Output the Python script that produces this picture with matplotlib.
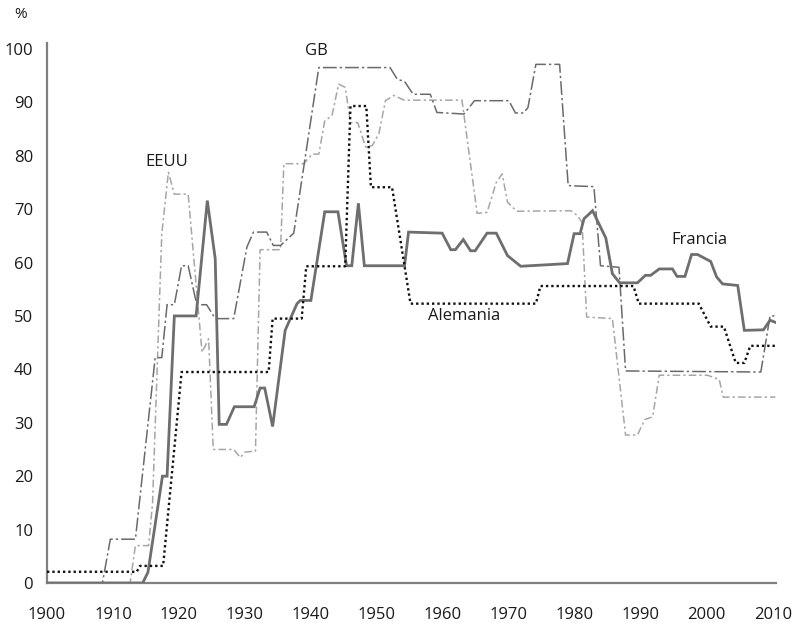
import numpy as np
import matplotlib
matplotlib.use("Agg")
import matplotlib.pyplot as plt

# -- Datos (tipo marginal maximo, %)
francia_anos = [1900, 1914.5, 1915.3, 1917.5, 1918.2, 1919.3, 1922.6, 1924.3, 1925.5, 1926.1,
                1927.2, 1928.4, 1931.4, 1932.3, 1933.0, 1934.2, 1936.1, 1937.9, 1938.4, 1940.0,
                1942.1, 1944.1, 1945.4, 1946.2, 1947.2, 1948.1, 1954.2, 1954.8, 1959.9, 1961.2,
                1961.9, 1963.1, 1964.2, 1964.9, 1966.7, 1968.1, 1969.8, 1971.8, 1978.9, 1979.9,
                1980.8, 1981.4, 1982.7, 1984.7, 1985.7, 1986.8, 1989.5, 1990.7, 1991.5, 1992.8,
                1994.8, 1995.5, 1996.7, 1997.7, 1998.6, 2000.6, 2001.5, 2002.4, 2004.7, 2005.7,
                2008.6, 2009.6, 2010.4]
francia = [0, 0, 2, 20, 20, 50, 50, 71.6, 60.7, 29.7,
           29.7, 33, 33, 36.5, 36.5, 29.3, 47.3, 52.3, 52.9, 52.9,
           69.5, 69.5, 59.4, 59.4, 71.1, 59.4, 59.4, 65.7, 65.5, 62.4,
           62.4, 64.3, 62.2, 62.2, 65.5, 65.5, 61.3, 59.3, 59.8, 65.4,
           65.4, 68.2, 69.7, 64.6, 57.9, 56.2, 56.2, 57.6, 57.6, 58.8,
           58.8, 57.4, 57.4, 61.5, 61.5, 60.2, 57.3, 56.0, 55.7, 47.3,
           47.4, 49.2, 48.8]

alemania_anos = [1900, 1913.6, 1914.1, 1917.6, 1920.4, 1933.6, 1934.2, 1938.6, 1939.3, 1945.2,
                 1946.0, 1948.4, 1949.1, 1952.3, 1955.1, 1974.1, 1974.8, 1988.9, 1989.7, 1998.8,
                 2000.6, 2002.6, 2004.4, 2005.7, 2006.6, 2010.4]
alemania = [2.1, 2.1, 3.2, 3.2, 39.5, 39.5, 49.5, 49.5, 59.3, 59.3,
            89.3, 89.3, 74.1, 74.1, 52.3, 52.3, 55.6, 55.6, 52.3, 52.3,
            48.0, 48.0, 41.2, 41.2, 44.4, 44.4]

gb_anos = [1900, 1908.4, 1909.6, 1913.4, 1916.4, 1917.4, 1918.2, 1919.3, 1920.4, 1921.4,
           1922.7, 1924.2, 1925.5, 1928.3, 1930.3, 1931.3, 1933.3, 1934.3, 1935.4, 1937.4,
           1941.2, 1952.0, 1953.1, 1954.2, 1955.5, 1958.1, 1959.1, 1963.2, 1964.8, 1970.0,
           1971.0, 1972.2, 1972.9, 1974.1, 1977.7, 1979.0, 1982.9, 1983.9, 1986.7, 1987.7,
           2008.2, 2009.6, 2010.4]
gb = [0, 0, 8.2, 8.2, 42.2, 42.2, 52.1, 52.1, 59.4, 59.4,
      52.1, 52.1, 49.5, 49.5, 62.9, 65.7, 65.7, 63.2, 63.2, 65.5,
      96.5, 96.5, 94.3, 93.9, 91.5, 91.5, 88.1, 87.8, 90.3, 90.3,
      88.0, 88.0, 89.0, 97.1, 97.1, 74.4, 74.2, 59.4, 59.1, 39.7,
      39.5, 50, 50]

eeuu_anos = [1900, 1912.6, 1913.4, 1915.4, 1916.0, 1917.4, 1918.4, 1919.3, 1921.4, 1923.5,
             1924.5, 1925.2, 1928.3, 1929.3, 1930.0, 1931.6, 1932.3, 1935.4, 1935.9, 1938.9,
             1940.2, 1941.2, 1942.1, 1943.2, 1944.2, 1945.2, 1946.0, 1947.1, 1948.3, 1949.3,
             1950.3, 1951.3, 1952.6, 1954.1, 1962.9, 1965.2, 1966.7, 1968.1, 1969.0, 1969.8,
             1971.2, 1979.4, 1980.4, 1981.1, 1981.8, 1985.7, 1987.7, 1989.5, 1990.6, 1991.8,
             1992.8, 2000.1, 2001.9, 2002.5, 2010.4]
eeuu = [0, 0, 7, 7, 15, 65.4, 76.9, 72.8, 72.8, 43.2,
        45.7, 25.0, 25.0, 23.5, 24.5, 24.7, 62.4, 62.4, 78.5, 78.5,
        80.3, 80.3, 86.5, 87.5, 93.4, 92.8, 86.2, 86.2, 81.6, 81.9,
        84.1, 90.3, 91.3, 90.4, 90.4, 69.2, 69.4, 75.0, 76.6, 71.3,
        69.6, 69.7, 68.8, 67.5, 49.8, 49.5, 27.7, 27.7, 30.6, 31.1,
        38.9, 38.9, 38.1, 34.8, 34.8]

xticks = np.arange(1900, 2011, 10)
yticks = np.arange(0, 101, 10)

plt.rcParams['font.family'] = ['Open Sans', 'DejaVu Sans']

# -- Preparer graphique
fig = plt.figure(figsize=(7.94, 6.23), dpi=100)
ax = fig.add_axes([47 / 794, 1 - 583 / 623, (776 - 47) / 794, (583 - 43) / 623])

ax.plot(eeuu_anos, eeuu, color='#a6a6a6', lw=1.1, dashes=(5, 2, 1.5, 2))
ax.plot(gb_anos, gb, color='#6a6a6a', lw=1.1, dashes=(9, 2, 1.5, 2))
ax.plot(francia_anos, francia, color='#6e6e6e', lw=2.0, solid_joinstyle='miter')
ax.plot(alemania_anos, alemania, color='#111111', lw=1.7, linestyle=(0, (1, 1.25)))

# -- Etiquetas de series
ax.text(1918.1, 78.8, 'EEUU', fontsize=12, ha='center', va='center', color='#1a1a1a')
ax.text(1940.9, 99.6, 'GB', fontsize=12, ha='center', va='center', color='#1a1a1a')
ax.text(1963.2, 49.9, 'Alemania', fontsize=12, ha='center', va='center', color='#1a1a1a')
ax.text(1998.9, 64.2, 'Francia', fontsize=12, ha='center', va='center', color='#1a1a1a')

# -- Ejes
ax.set_xlim(1900, 2010.5)
ax.set_ylim(0, 101.1)
ax.set_xticks(xticks)
ax.set_yticks(yticks)
ax.tick_params(length=0, labelsize=12, colors='#1a1a1a')
ax.tick_params(axis='x', pad=17)
ax.tick_params(axis='y', pad=10)
for s in ['top', 'right']:
    ax.spines[s].set_visible(False)
for s in ['left', 'bottom']:
    ax.spines[s].set_color('#808080')
    ax.spines[s].set_linewidth(1.6)
    ax.spines[s].set_zorder(0.5)

fig.text(21 / 794, 1 - 15 / 623, '%', fontsize=11, ha='center', va='center', color='#1a1a1a')

fig.savefig('out.png', dpi=100)
